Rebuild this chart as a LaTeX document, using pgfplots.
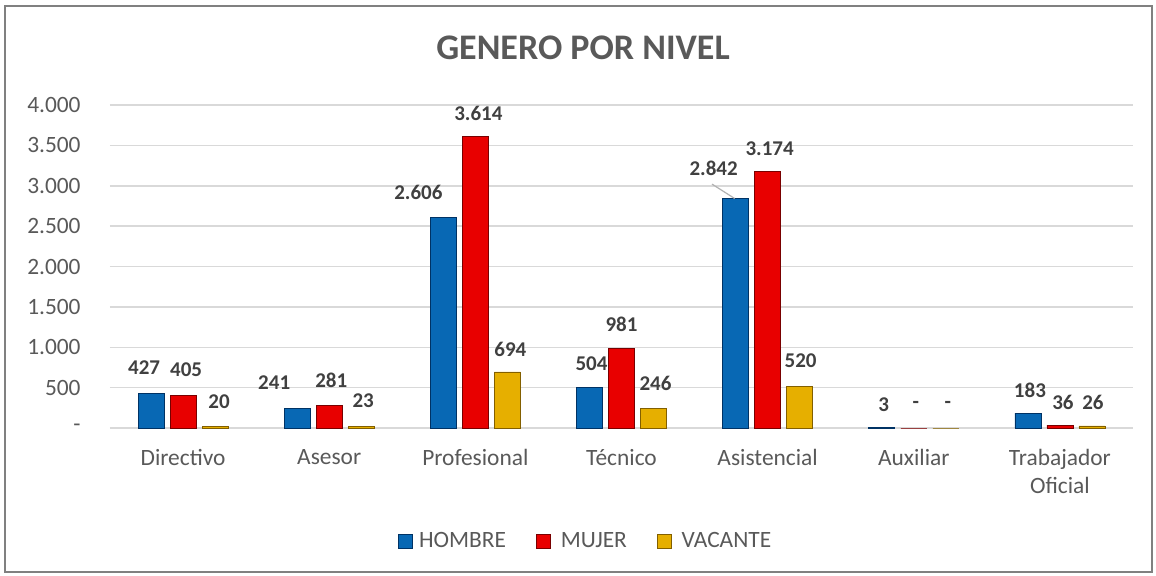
\documentclass[border=0pt]{standalone}
\usepackage{fontspec}
\setmainfont{Carlito}
\usepackage{pgfplots}
\usepackage{pgfplotstable}
\pgfplotsset{compat=1.18}
\definecolor{txt}{HTML}{595959}
\definecolor{lbl}{HTML}{404040}
\definecolor{gridc}{HTML}{D9D9D9}
\definecolor{bordc}{HTML}{808080}
\definecolor{bM}{RGB}{8,104,180}
\definecolor{bD}{RGB}{0,50,100}
\definecolor{rM}{RGB}{232,0,0}
\definecolor{rD}{RGB}{120,0,0}
\definecolor{yM}{RGB}{230,175,0}
\definecolor{yD}{RGB}{130,95,0}

\pgfplotstableread{
x y lab dx dy
0 427 427 -3.5 13
1 241 241 -11.5 13.2
2 2606 2.606 -12.5 12.4
3 504 504 1 12
4 2842 2.842 -11 15.3
5 3 3 1 11.4
6 183 183 1 11.5
}\hombre
\pgfplotstableread{
x y lab dx dy
0 405 405 1.5 13
1 281 281 1 12.7
2 3614 3.614 1.5 11.5
3 981 981 0 12
4 3174 3.174 1 11.5
5 0 - 1 11.5
6 36 36 1.5 11.5
}\mujer
\pgfplotstableread{
x y lab dx dy
0 20 20 2 12.2
1 23 23 1 12.5
2 694 694 1.5 11.5
3 246 246 1 12.5
4 520 520 0.5 12.5
5 0 - 1 11.5
6 26 26 0.5 12
}\vacante

\begin{document}
\begin{tikzpicture}
\useasboundingbox (-55pt,-73.5pt) rectangle (523pt,214pt);
\draw[bordc, line width=0.75pt] (-52.5pt,-72pt) rectangle (521pt,211pt);
\node[font=\fontsize{18}{22}\selectfont\bfseries, text=txt] at (236.5pt,190pt) {GENERO POR NIVEL};
\begin{axis}[
  at={(0,0)}, anchor=south west,
  scale only axis, width=511.5pt, height=161.5pt,
  xmin=-0.5, xmax=6.5, ymin=0, ymax=4000,
  ybar=3pt, bar width=13pt,
  clip=false,
  axis line style={draw=none},
  ymajorgrids, grid style={gridc, line width=0.75pt},
  major tick length=0pt,
  ytick={0,500,1000,1500,2000,2500,3000,3500,4000},
  yticklabels={-\hspace{5pt},500,1.000,1.500,2.000,2.500,3.000,3.500,4.000},
  xtick={0,1,2,3,4,5,6},
  xticklabels={Directivo,Asesor,Profesional,Técnico,Asistencial,Auxiliar,{Trabajador\\Oficial}},
  tick label style={font=\fontsize{11.7}{14}\selectfont, text=txt},
  yticklabel style={anchor=east, inner sep=0pt, xshift=-14.5pt},
  xticklabel style={anchor=north, inner sep=0pt, yshift=-10.5pt, align=center},
  nodes near coords,
  point meta=explicit symbolic,
  visualization depends on={\thisrow{dx} \as \dx},
  visualization depends on={\thisrow{dy} \as \dy},
  nodes near coords style={anchor=center, inner sep=0pt, xshift=\dx pt, yshift=\dy pt,
     font=\fontsize{10.5}{12}\selectfont\bfseries, text=lbl},
  legend columns=3,
  legend style={at={(axis description cs:0.466,0)}, anchor=center, yshift=-56.5pt,
     draw=none, fill=none, font=\fontsize{11.7}{14}\selectfont, text=txt,
     /tikz/every even column/.append style={column sep=13pt}},
  legend image code/.code={\path[#1] (0pt,-3.5pt) rectangle (7pt,3.5pt);},
]
\addplot[fill=bM, draw=bD, line width=0.4pt] table[x=x, y=y, meta=lab] {\hombre};
\addplot[fill=rM, draw=rD, line width=0.4pt] table[x=x, y=y, meta=lab] {\mujer};
\addplot[fill=yM, draw=yD, line width=0.4pt] table[x=x, y=y, meta=lab] {\vacante};
\legend{\hspace{1pt}HOMBRE, \hspace{3pt}MUJER, \hspace{3pt}VACANTE}
\draw[gray!60, line width=0.6pt] ([xshift=-16.5pt]axis cs:4,2842) -- ++(-11.3pt,7.2pt);
\end{axis}
\end{tikzpicture}
\end{document}
